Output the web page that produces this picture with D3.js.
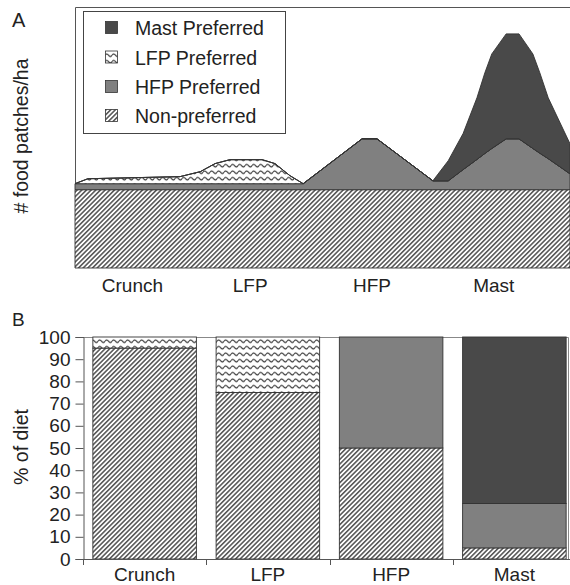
<!DOCTYPE html>
<html>
<head>
<meta charset="utf-8">
<script src="https://cdn.jsdelivr.net/npm/d3@7"></script>
<style>
  body { margin: 0; background: #fff; }
  svg { display: block; font-family: "Liberation Sans", Arial, sans-serif; }
</style>
</head>
<body>
<svg id="chart" width="570" height="585"></svg>
<script>
// ----------------------------
// Data, panel A (food patch availability over time)
// ----------------------------
var timeA = [0, 2.6, 21.2, 25.3, 28.3, 31.3, 37.8, 40.4, 43.4, 46.1, 58.0, 61.0,
             72.3, 75.4, 78.4, 81.2, 82.8, 84.2, 87.1, 89.7, 92.5, 93.9, 95.6, 100];
var nonPrefA = [30, 30, 30, 30, 30, 30, 30, 30, 30, 30, 30, 30,
                30, 30, 30, 30, 30, 30, 30, 30, 30, 30, 30, 30];
var hfpA = [2.3, 2.3, 2.3, 2.3, 2.3, 2.3, 2.3, 2.3, 2.3, 2.3, 19.5, 19.5,
            3.4, 3.4, 7.7, 11.6, 13.9, 15.8, 19.5, 19.5, 15.8, 14.0, 11.9, 6.1];
var lfpA = [0, 1.9, 2.7, 4.6, 7.7, 9.2, 9.2, 7.7, 3.1, 0, 0, 0,
            0, 0, 0, 0, 0, 0, 0, 0, 0, 0, 0, 0];
var mastA = [0, 0, 0, 0, 0, 0, 0, 0, 0, 0, 0, 0,
             0, 7.7, 13.8, 23.6, 30.9, 36.2, 40.2, 40.2, 36.2, 30.8, 23.3, 11.5];
var periodLabels = ["Crunch", "LFP", "HFP", "Mast"];
var periodCentres = [11.6, 35.4, 60.0, 84.6];

// ----------------------------
// Data, panel B (% of diet)
// ----------------------------
var dietCats = ["Crunch", "LFP", "HFP", "Mast"];
var dietNonPref = [95, 75, 50, 5];
var dietHfp = [0, 0, 50, 20];
var dietLfp = [5, 25, 0, 0];
var dietMast = [0, 0, 0, 75];
var dietTicks = [0, 10, 20, 30, 40, 50, 60, 70, 80, 90, 100];

var legendNames = ["Mast Preferred", "LFP Preferred", "HFP Preferred", "Non-preferred"];

var svg = d3.select("#chart");
var outline = "#333";
var textCol = "#222";

// ----------------------------
// Fill patterns
// ----------------------------
var defs = svg.append("defs");

var hatch = defs.append("pattern")
    .attr("id", "hatch")
    .attr("patternUnits", "userSpaceOnUse")
    .attr("width", 3.3).attr("height", 3.3)
    .attr("patternTransform", "rotate(45)");
hatch.append("rect").attr("width", 3.3).attr("height", 3.3).attr("fill", "#fff");
hatch.append("line")
    .attr("x1", 0.8).attr("y1", -1).attr("x2", 0.8).attr("y2", 5)
    .attr("stroke", "#333").attr("stroke-width", 1.3);

var wave = defs.append("pattern")
    .attr("id", "wave")
    .attr("patternUnits", "userSpaceOnUse")
    .attr("width", 7).attr("height", 6.5);
wave.append("rect").attr("width", 7).attr("height", 6.5).attr("fill", "#fff");
wave.append("path")
    .attr("d", "M0,3.2 Q1.75,0.6 3.5,3.2 T7,3.2")
    .attr("fill", "none").attr("stroke", "#333").attr("stroke-width", 1.1);

var fills = {
    nonPref: "url(#hatch)",
    hfp: "#808080",
    lfp: "url(#wave)",
    mast: "#494949"
};

// ----------------------------
// Panel A: stacked area
// ----------------------------
var xA = d3.scaleLinear().domain([0, 100]).range([75, 570]);
var yA = d3.scaleLinear().domain([0, 100]).range([268, 7]);

var tableA = timeA.map(function (t, i) {
    return { t: t, nonPref: nonPrefA[i], hfp: hfpA[i], lfp: lfpA[i], mast: mastA[i] };
});
var keys = ["nonPref", "hfp", "lfp", "mast"];
var seriesA = d3.stack().keys(keys)(tableA);

var area = d3.area()
    .x(function (d) { return xA(d.data.t); })
    .y0(function (d) { return yA(d[0]); })
    .y1(function (d) { return yA(d[1]); });

var gA = svg.append("g");

// frame (top and left only)
gA.append("path")
    .attr("d", "M75.5,268 V7.5 H570")
    .attr("fill", "none").attr("stroke", "#555").attr("stroke-width", 1);

gA.selectAll(".layer")
    .data(seriesA)
    .enter().append("path")
    .attr("class", "layer")
    .attr("d", area)
    .attr("fill", function (d) { return fills[d.key]; })
    .attr("stroke", outline)
    .attr("stroke-width", 0.9)
    .attr("stroke-linejoin", "round");

gA.selectAll(".periodLabel")
    .data(periodLabels)
    .enter().append("text")
    .attr("class", "periodLabel")
    .attr("x", function (d, i) { return xA(periodCentres[i]); })
    .attr("y", 292)
    .attr("text-anchor", "middle")
    .attr("font-size", 19)
    .attr("fill", textCol)
    .text(function (d) { return d; });

gA.append("text")
    .attr("transform", "translate(28,136) rotate(-90)")
    .attr("text-anchor", "middle")
    .attr("font-size", 19.5)
    .attr("fill", textCol)
    .text("# food patches/ha");

svg.append("text")
    .attr("x", 12).attr("y", 27)
    .attr("font-size", 20).attr("fill", textCol)
    .text("A");

// legend
var legend = gA.append("g");
legend.append("rect")
    .attr("x", 83.5).attr("y", 11.5).attr("width", 202).attr("height", 122)
    .attr("fill", "#fff").attr("stroke", "#444");
var legendKeys = ["mast", "lfp", "hfp", "nonPref"];
var legendRows = [28, 57.5, 87, 116];
legendKeys.forEach(function (k, i) {
    legend.append("rect")
        .attr("x", 105.5).attr("y", legendRows[i] - 6.5)
        .attr("width", 12).attr("height", 12)
        .attr("fill", fills[k]).attr("stroke", outline).attr("stroke-width", 0.8);
    legend.append("text")
        .attr("x", 135).attr("y", legendRows[i] + 7)
        .attr("font-size", 19.5).attr("fill", textCol)
        .text(legendNames[i]);
});

// ----------------------------
// Panel B: stacked bars
// ----------------------------
var xB = d3.scaleBand().domain(dietCats).range([83, 576]).paddingInner(0.16).paddingOuter(0.08);
var yB = d3.scaleLinear().domain([0, 100]).range([559, 337]);

var tableB = dietCats.map(function (c, i) {
    return { cat: c, nonPref: dietNonPref[i], hfp: dietHfp[i], lfp: dietLfp[i], mast: dietMast[i] };
});
var seriesB = d3.stack().keys(keys)(tableB);

var gB = svg.append("g");

// frame top and right
gB.append("path")
    .attr("d", "M83,337.5 H568.5 V559")
    .attr("fill", "none").attr("stroke", "#888").attr("stroke-width", 1);

gB.selectAll(".series")
    .data(seriesB)
    .enter().append("g")
    .attr("class", "series")
    .attr("fill", function (d) { return fills[d.key]; })
    .selectAll("rect")
    .data(function (d) { return d.filter(function (v) { return v[1] - v[0] > 0; }); })
    .enter().append("rect")
    .attr("x", function (d) { return xB(d.data.cat); })
    .attr("y", function (d) { return yB(d[1]); })
    .attr("width", xB.bandwidth())
    .attr("height", function (d) { return yB(d[0]) - yB(d[1]); })
    .attr("stroke", outline)
    .attr("stroke-width", 0.9);

// y axis
var yAxis = gB.append("g")
    .attr("transform", "translate(83.5,0)")
    .call(d3.axisLeft(yB).tickValues(dietTicks).tickSize(8).tickPadding(5));
yAxis.selectAll("text").attr("font-size", 19).attr("fill", textCol)
    .attr("font-family", "Liberation Sans, Arial, sans-serif");
yAxis.selectAll("line, path").attr("stroke", "#555");

// x axis, ticks at band boundaries
var step = xB.step();
var boundaries = d3.range(dietCats.length + 1).map(function (i) { return 83 + i * step; });
gB.append("line")
    .attr("x1", 83).attr("x2", 576).attr("y1", 559.5).attr("y2", 559.5)
    .attr("stroke", "#555");
gB.selectAll(".xtick")
    .data(boundaries)
    .enter().append("line")
    .attr("class", "xtick")
    .attr("x1", function (d) { return Math.round(d) + 0.5; })
    .attr("x2", function (d) { return Math.round(d) + 0.5; })
    .attr("y1", 559).attr("y2", 565)
    .attr("stroke", "#555");
gB.selectAll(".xlabel")
    .data(dietCats)
    .enter().append("text")
    .attr("class", "xlabel")
    .attr("x", function (d) { return xB(d) + xB.bandwidth() / 2; })
    .attr("y", 581)
    .attr("text-anchor", "middle")
    .attr("font-size", 19).attr("fill", textCol)
    .text(function (d) { return d; });

gB.append("text")
    .attr("transform", "translate(28,447) rotate(-90)")
    .attr("text-anchor", "middle")
    .attr("font-size", 19.5)
    .attr("fill", textCol)
    .text("% of diet");

svg.append("text")
    .attr("x", 12).attr("y", 326)
    .attr("font-size", 19).attr("fill", textCol)
    .text("B");
</script>
</body>
</html>
